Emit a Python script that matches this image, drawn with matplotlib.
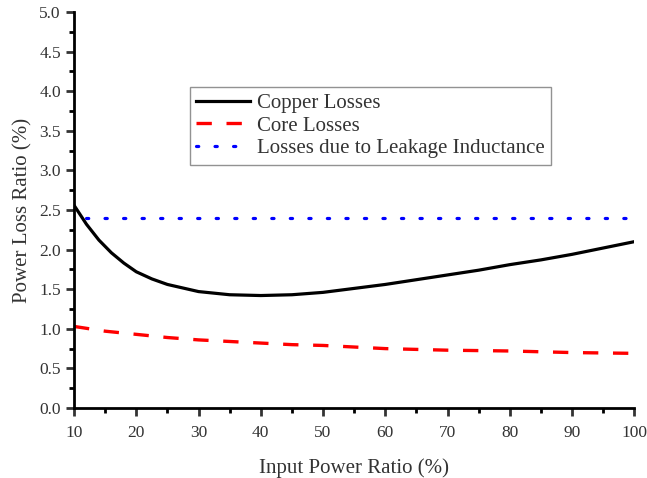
import matplotlib
matplotlib.use("Agg")
import matplotlib.pyplot as plt
from matplotlib.ticker import MultipleLocator

plt.rcParams['font.family'] = ['Liberation Serif', 'DejaVu Serif']

input_ratio = [10, 12, 14, 16, 18, 20, 22.5, 25, 30, 35, 40, 45, 50, 55, 60,
               65, 70, 75, 80, 85, 90, 95, 100]
copper_losses = [2.56, 2.32, 2.12, 1.96, 1.83, 1.72, 1.63, 1.56, 1.47, 1.43, 1.42,
                 1.43, 1.46, 1.51, 1.56, 1.62, 1.68, 1.74, 1.81, 1.87, 1.94, 2.02, 2.10]
core_input = [10, 15, 20, 25, 30, 35, 40, 45, 50, 55, 60, 65, 70, 75, 80, 85, 90, 95, 100]
core_losses = [1.03, 0.97, 0.93, 0.89, 0.86, 0.84, 0.82, 0.80, 0.79, 0.77, 0.75,
               0.74, 0.73, 0.725, 0.72, 0.71, 0.70, 0.695, 0.69]
leakage_x = [12, 100]
leakage_losses = [2.4, 2.4]

fig = plt.figure(figsize=(6.47, 4.78), dpi=100)
ax = fig.add_axes([0.1144, 0.1464, 0.866, 0.8286])

ax.plot(input_ratio, copper_losses, color='black', lw=2.3, label='Copper Losses')
ax.plot(core_input, core_losses, color='red', lw=2.4, dashes=(4.6, 4.4), label='Core Losses')
ax.plot(leakage_x, leakage_losses, color='blue', lw=2.3, dashes=(0.7, 5.1),
        dash_capstyle='round', label='Losses due to Leakage Inductance')

ax.set_xlim(10, 100)
ax.set_ylim(0, 5.0)
ax.xaxis.set_major_locator(MultipleLocator(10))
ax.xaxis.set_minor_locator(MultipleLocator(5))
ax.yaxis.set_major_locator(MultipleLocator(0.5))
ax.yaxis.set_minor_locator(MultipleLocator(0.25))
ax.yaxis.set_major_formatter(plt.FormatStrFormatter('%.1f'))

for s in ['top', 'right']:
    ax.spines[s].set_visible(False)
for s in ['left', 'bottom']:
    ax.spines[s].set_linewidth(2)
ax.tick_params(which='major', direction='out', length=6, width=2, labelsize=12.5, colors='#333333')
ax.tick_params(which='minor', direction='out', length=3.5, width=2)
ax.tick_params(axis='x', pad=6)

ax.set_xlabel('Input Power Ratio (%)', fontsize=15, color='#333333', labelpad=13)
ax.set_ylabel('Power Loss Ratio (%)', fontsize=15, color='#333333', labelpad=5)

leg = ax.legend(loc='upper left', bbox_to_anchor=(0.207, 0.81), borderaxespad=0,
                fontsize=15, frameon=True, fancybox=False, edgecolor='#777777',
                handlelength=2.6, handletextpad=0.3, labelspacing=0.15, borderpad=0.3)
leg.get_frame().set_linewidth(1.0)
for t in leg.get_texts():
    t.set_color('#333333')

fig.savefig('out.png', dpi=100)
